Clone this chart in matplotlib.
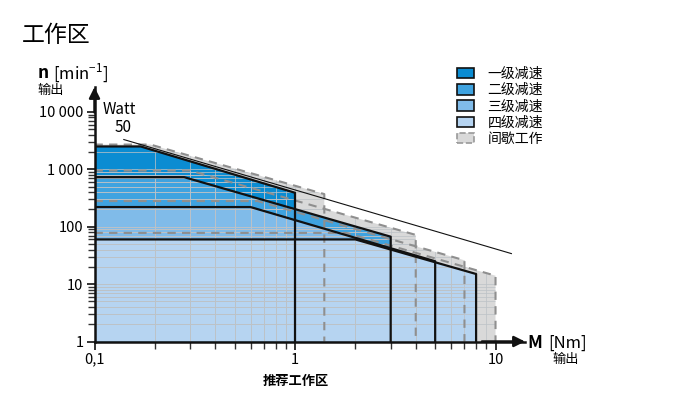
import matplotlib
matplotlib.use('Agg')
import matplotlib.pyplot as plt
import numpy as np
from matplotlib.patches import Polygon, Patch
from matplotlib.collections import LineCollection
from matplotlib.ticker import FixedLocator, NullFormatter

plt.rcParams['font.family'] = ['Noto Sans CJK SC', 'DejaVu Sans']

# ---------------- data ----------------
stage_labels = ['一级减速', '二级减速', '三级减速', '四级减速']
intermittent_label = '间歇工作'
stage_colors = ['#0b8cd2', '#3fa3e0', '#80bbe9', '#b6d4f1']

# continuous operation envelopes (n flat up to corner torque, then constant power)
cont_n_max = [2500, 730, 220, 60]
cont_M_corner = [0.17, 0.28, 0.60, 2.0]
cont_M_max = [1.0, 3.0, 5.0, 8.0]
cont_n_end = [390, 67, 25, 15]

# intermittent operation envelopes
int_n_max = [2700, 950, 280, 78]
int_M_corner = [0.19, 0.30, 0.65, 1.8]
int_M_max = [1.4, 4.0, 7.0, 10.0]
int_n_end = [370, 72, 26, 14]

# 50 Watt reference line
watt_M = [0.14, 12.0]
watt_n = [3300, 34]

y_ticks = [1, 10, 100, 1000, 10000]
y_ticklabels = ['1', '10', '100', '1 000', '10 000']
x_ticks = [0.1, 1, 10]
x_ticklabels = ['0,1', '1', '10']

M_min, n_min = 0.1, 1.0

# ---------------- figure ----------------
W, H = 685, 397
fig = plt.figure(figsize=(W / 100, H / 100), dpi=100)
ax = fig.add_axes([94.5 / W, 1 - 341.5 / H, 430.5 / W, 254.5 / H])
ax.set_xscale('log')
ax.set_yscale('log')
ax.set_xlim(M_min, 10 ** 1.147)
ax.set_ylim(n_min, 10 ** 4.434)


def outline(nmax, mc, mmax, nend):
    return [(M_min, nmax), (mc, nmax), (mmax, nend), (mmax, n_min)]


# intermittent grey fills
int_patches = []
for nmax, mc, mmax, nend in zip(int_n_max, int_M_corner, int_M_max, int_n_end):
    pts = outline(nmax, mc, mmax, nend) + [(M_min, n_min)]
    p = Polygon(pts, closed=True, facecolor='#d9d9d9', edgecolor='none', zorder=1)
    ax.add_patch(p)
    int_patches.append(p)

# continuous blue fills
for i, (nmax, mc, mmax, nend) in enumerate(zip(cont_n_max, cont_M_corner, cont_M_max, cont_n_end)):
    pts = outline(nmax, mc, mmax, nend) + [(M_min, n_min)]
    ax.add_patch(Polygon(pts, closed=True, facecolor=stage_colors[i], edgecolor='none', zorder=2))

# grid lines clipped to the shaded areas
gx = [m * 10.0 ** k for k in (-1, 0) for m in range(1, 10)] + [10, 20]
gy = [m * 10.0 ** k for k in range(0, 5) for m in range(1, 10)]
segs = [[(x, 0.5), (x, 1e6)] for x in gx] + [[(0.05, y), (50, y)] for y in gy]
for p in int_patches:
    lc = LineCollection(segs, colors=[(0.74, 0.76, 0.78, 0.75)], linewidths=0.7, zorder=3)
    ax.add_collection(lc)
    lc.set_clip_path(p)

# dashed outlines of intermittent areas
for nmax, mc, mmax, nend in zip(int_n_max, int_M_corner, int_M_max, int_n_end):
    xs, ys = zip(*outline(nmax, mc, mmax, nend))
    ax.plot(xs, ys, color='#8f8f8f', lw=1.5, ls=(0, (4, 3)), zorder=4, solid_capstyle='butt')

# black outlines of continuous areas
for nmax, mc, mmax, nend in zip(cont_n_max, cont_M_corner, cont_M_max, cont_n_end):
    xs, ys = zip(*outline(nmax, mc, mmax, nend))
    ax.plot(xs, ys, color='#111111', lw=1.6, zorder=5)

# watt line
ax.plot(watt_M, watt_n, color='#111111', lw=0.8, zorder=5)

# ---------------- axes styling ----------------
for s in ('top', 'right'):
    ax.spines[s].set_visible(False)
for s in ('left', 'bottom'):
    ax.spines[s].set_linewidth(1.8)
    ax.spines[s].set_color('#111111')
    ax.spines[s].set_zorder(6)

ax.yaxis.set_major_locator(FixedLocator(y_ticks))
ax.set_yticklabels(y_ticklabels)
ax.xaxis.set_major_locator(FixedLocator(x_ticks))
ax.set_xticklabels(x_ticklabels)
ax.yaxis.set_minor_locator(FixedLocator([m * 10.0 ** k for k in range(0, 4) for m in range(2, 10)]))
ax.xaxis.set_minor_locator(FixedLocator([m * 10.0 ** k for k in (-1, 0) for m in range(2, 10)] + [20]))
ax.xaxis.set_minor_formatter(NullFormatter())
ax.yaxis.set_minor_formatter(NullFormatter())
ax.tick_params(axis='both', which='major', length=6, width=1.2, color='#111111',
               labelsize=10.5, direction='out', pad=2)
ax.tick_params(axis='both', which='minor', length=5, width=1.0, color='#333333', direction='out')

# arrows at the axis ends
ax.annotate('', xy=(1.0, 0), xytext=(0.9, 0), xycoords='axes fraction',
            arrowprops=dict(arrowstyle='-|>', color='#111111', lw=1.8, mutation_scale=16,
                            shrinkA=0, shrinkB=0), zorder=7)
ax.annotate('', xy=(0, 1.0), xytext=(0, 0.9), xycoords='axes fraction',
            arrowprops=dict(arrowstyle='-|>', color='#111111', lw=1.8, mutation_scale=16,
                            shrinkA=0, shrinkB=0), zorder=7)


def ftext(x, y, s, **kw):
    return fig.text(x / W, 1 - y / H, s, **kw)


ftext(22, 36, '工作区', fontsize=16.5, va='center', ha='left')
ftext(38, 73, 'n', fontsize=12.5, fontweight='bold', va='center', ha='left')
ftext(53, 73, '[min$^{\\mathregular{-1}}$]', fontsize=12, va='center', ha='left')
ftext(37, 90, '输出', fontsize=9.5, va='center', ha='left')
ftext(527, 343, 'M', fontsize=12.5, fontweight='bold', va='center', ha='left')
ftext(548, 343, '[Nm]', fontsize=12, va='center', ha='left')
ftext(552, 359, '输出', fontsize=9.5, va='center', ha='left')
ftext(296, 381, '推荐工作区', fontsize=9.5, fontweight='bold', va='center', ha='center')
ftext(103, 110, 'Watt', fontsize=11, va='center', ha='left')
ftext(115, 127, '50', fontsize=11, va='center', ha='left')

# legend
handles = [Patch(facecolor=c, edgecolor='#111111', linewidth=1.2) for c in stage_colors]
handles.append(Patch(facecolor='#d9d9d9', edgecolor='#999999', linewidth=1.2, linestyle='--'))
leg = fig.legend(handles, stage_labels + [intermittent_label], loc='upper left',
                 bbox_to_anchor=(457 / W, 1 - 67 / H), frameon=False, fontsize=10,
                 handlelength=1.2, handleheight=0.8, labelspacing=0.16, handletextpad=1.0,
                 borderpad=0, borderaxespad=0)

fig.savefig('out.png', dpi=100)
